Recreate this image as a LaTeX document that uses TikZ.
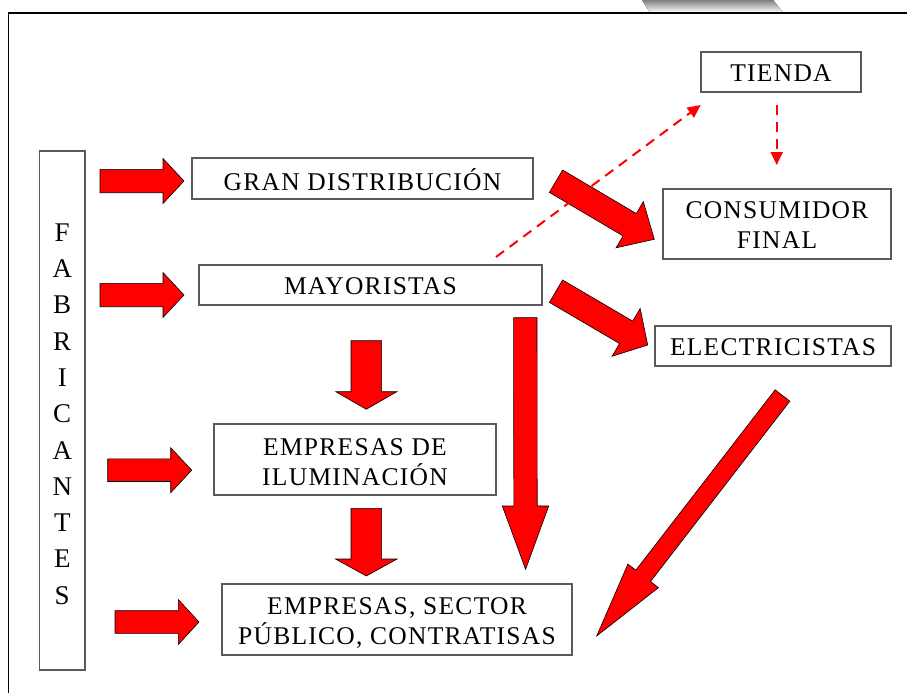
\documentclass[tikz,border=0pt]{standalone}
\usepackage{fontspec}
\setmainfont{Liberation Serif}[LetterSpace=5]
\usetikzlibrary{calc,arrows.meta}
\definecolor{arrred}{RGB}{255,0,0}
\definecolor{boxline}{RGB}{90,90,90}
\definecolor{shade}{RGB}{226,226,226}
\tikzset{
  box/.style={draw=boxline, line width=1.2pt, inner sep=0pt},
  lbl/.style={align=center, inner sep=0pt, font=\fontsize{25.5}{30}\selectfont},
  blockstyle/.style={fill=arrred, draw=black, line width=0.6pt, line join=miter},
  dasharr/.style={draw=arrred, line width=2pt, dash pattern=on 10pt off 7pt,
    -{Triangle[length=13pt,width=12pt]}},
}
% #1 tail centre, #2 tip, #3 half shaft width, #4 half head width, #5 head length
\newcommand{\blockarr}[5]{%
  \path ($(#2)!#5!(#1)$) coordinate (hb);
  \filldraw[blockstyle]
    ($(#1)!#3!90:(#2)$) -- ($(hb)!#3!90:(#2)$) -- ($(hb)!#4!90:(#2)$) --
    (#2) --
    ($(hb)!#4!-90:(#2)$) -- ($(hb)!#3!-90:(#2)$) -- ($(#1)!#3!-90:(#2)$) -- cycle;
}
\begin{document}
\begin{tikzpicture}[x=1pt,y=-1pt]
\useasboundingbox (0,0) rectangle (907,693);
% faint background shape and frame
\fill[shade] (642,0) -- (773,0) -- (783,12.5) -- (650,12.5) -- cycle;
\draw[line width=1.5pt] (8.5,693) -- (8.5,13) -- (907,13);

% boxes
\node[box, minimum width=45.5pt, minimum height=519pt,
      label={[lbl, font=\fontsize{27}{36.3}\selectfont, yshift=-3.5pt]center:{F\\A\\B\\R\\I\\C\\A\\N\\T\\E\\S}}]
      (fab) at (62.25,410.5) {};
\node[box, minimum width=341pt, minimum height=41pt,
      label={[lbl, yshift=-1pt]center:{GRAN DISTRIBUCIÓN}}] (gran) at (362.5,178.5) {};
\node[box, minimum width=343pt, minimum height=40pt,
      label={[lbl, yshift=-1.5pt]center:{MAYORISTAS}}] (may) at (370.5,285) {};
\node[box, minimum width=160pt, minimum height=40pt,
      label={[lbl, yshift=-1.3pt]center:{TIENDA}}] (tienda) at (781,72) {};
\node[box, minimum width=228pt, minimum height=70pt,
      label={[lbl, yshift=-1.5pt]center:{CONSUMIDOR\\FINAL}}] (cons) at (777,224) {};
\node[box, minimum width=236pt, minimum height=40pt,
      label={[lbl, yshift=-1.2pt]center:{ELECTRICISTAS}}] (elec) at (773,346) {};
\node[box, minimum width=282pt, minimum height=71pt,
      label={[lbl, yshift=-3pt]center:{EMPRESAS DE\\ILUMINACIÓN}}] (ilum) at (355,459.5) {};
\node[box, minimum width=350pt, minimum height=71pt,
      label={[lbl, yshift=-3.5pt]center:{EMPRESAS, SECTOR\\PÚBLICO, CONTRATISAS}}] (emp) at (397,619.5) {};

% arrow end points
\coordinate (r1a) at (100,181);   \coordinate (r1b) at (184,181);
\coordinate (r2a) at (100,295);   \coordinate (r2b) at (184,295);
\coordinate (r3a) at (107.7,470.2); \coordinate (r3b) at (191.7,470.2);
\coordinate (r4a) at (115,622);   \coordinate (r4b) at (199,622);
\coordinate (d1a) at (366.3,340.7); \coordinate (d1b) at (366.3,409.3);
\coordinate (d2a) at (366.3,508.3); \coordinate (d2b) at (366.3,576);
\coordinate (d3a) at (525.3,317.7); \coordinate (d3b) at (525.6,569.3);
\coordinate (g1a) at (556,181.2); \coordinate (g1b) at (654.3,239.3);
\coordinate (g2a) at (556,291.2); \coordinate (g2b) at (647.7,345);
\coordinate (e1a) at (782.5,395.5); \coordinate (e1b) at (596.7,636);

% block arrows
\blockarr{r1a}{r1b}{11.7pt}{22.5pt}{21pt}
\blockarr{r2a}{r2b}{11.7pt}{22.5pt}{21pt}
\blockarr{r3a}{r3b}{11.3pt}{22.5pt}{21pt}
\blockarr{r4a}{r4b}{11.3pt}{22.5pt}{20.7pt}
\blockarr{d1a}{d1b}{15.3pt}{30.5pt}{17.6pt}
\blockarr{d2a}{d2b}{15.3pt}{30.8pt}{17pt}
\blockarr{d3a}{d3b}{11.7pt}{23.2pt}{63.3pt}
\blockarr{g1a}{g1b}{13pt}{26.8pt}{28.6pt}
\blockarr{g2a}{g2b}{13pt}{27.7pt}{25pt}
\blockarr{e1a}{e1b}{9.3pt}{19.3pt}{76pt}

% dashed arrows
\coordinate (ms) at (496,257);
\coordinate (te) at (700.7,105);
\coordinate (ts) at (776.7,105);
\coordinate (ce) at (776.7,165);
\draw[dasharr] (ms) -- (te);
\draw[dasharr] (ts) -- (ce);
\end{tikzpicture}
\end{document}
